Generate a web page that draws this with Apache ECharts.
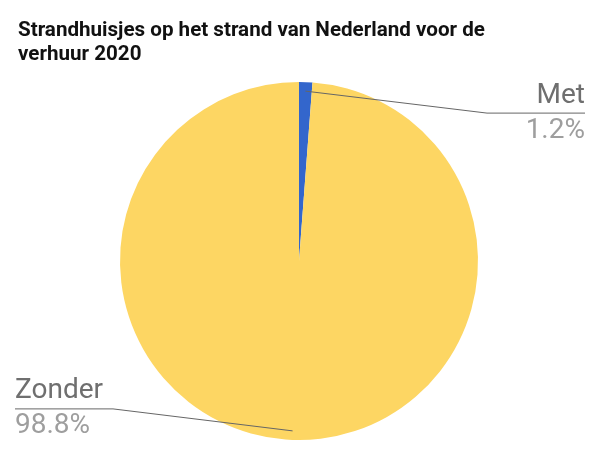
<!DOCTYPE html>
<html>
<head>
<meta charset="utf-8">
<script src="https://cdn.jsdelivr.net/npm/echarts@6/dist/echarts.min.js"></script>
<style>
html,body{margin:0;padding:0;background:#fff;}
#chart{width:603px;height:459px;}
</style>
</head>
<body>
<div id="chart"></div>
<script>
var titleText = 'Strandhuisjes op het strand van Nederland voor de\nverhuur 2020';
var categories = ['Met', 'Zonder'];
var values = [1.2, 98.8];
var sliceColors = ['#3366cc', '#fdd663'];

var DOT_INSET = 9;     // label line starts this far inside the rim
var LABEL_INSET = 31;  // label anchor radial inset from the rim
var EDGE_RIGHT = 18;
var EDGE_LEFT = 15;
var SEG = 98;

var chart = echarts.init(document.getElementById('chart'), null, {renderer: 'canvas'});

function buildData(transparent) {
  return categories.map(function (c, i) {
    return {name: c, value: values[i], itemStyle: {color: transparent ? 'rgba(0,0,0,0)' : sliceColors[i]}};
  });
}

chart.setOption({
  animation: false,
  backgroundColor: '#ffffff',
  title: {
    text: titleText,
    left: 13,
    top: 14,
    textStyle: {
      fontFamily: 'Roboto',
      fontWeight: 'bold',
      fontSize: 20.6,
      lineHeight: 24,
      color: '#111111'
    }
  },
  series: [{
    type: 'pie',
    z: 2,
    center: [299, 261],
    radius: 179,
    startAngle: 90,
    clockwise: true,
    silent: true,
    emphasis: {disabled: true},
    itemStyle: {borderWidth: 0},
    label: {show: false},
    labelLine: {show: false},
    data: buildData(false)
  }, {
    type: 'pie',
    z: 5,
    center: [299, 261],
    radius: 179,
    startAngle: 90,
    clockwise: true,
    silent: true,
    emphasis: {disabled: true},
    itemStyle: {borderWidth: 0},
    label: {
      show: true,
      position: 'outside',
      formatter: function (p) {
        return '{name|' + p.name + '}\n{pct|' + p.percent.toFixed(1) + '%}';
      },
      rich: {
        name: {fontFamily: 'Roboto', fontSize: 28, lineHeight: 35, color: '#6f6f6f'},
        pct: {fontFamily: 'Roboto', fontSize: 28, lineHeight: 35, color: '#9e9e9e'}
      }
    },
    labelLine: {
      show: true,
      length: 10,
      length2: 10,
      smooth: false,
      lineStyle: {color: '#666666', width: 1}
    },
    labelLayout: function (params) {
      var pts = params.labelLinePoints;
      if (!pts) return {};
      var p0 = pts[0], p1 = pts[1];
      var dx = p1[0] - p0[0], dy = p1[1] - p0[1];
      var len = Math.sqrt(dx * dx + dy * dy) || 1;
      var ux = dx / len, uy = dy / len;
      var start = [p0[0] - ux * DOT_INSET, p0[1] - uy * DOT_INSET];
      var anchorY = p0[1] - uy * LABEL_INSET;
      var right = ux >= 0;
      var edgeX = right ? chart.getWidth() - EDGE_RIGHT : EDGE_LEFT;
      var bendX = right ? edgeX - SEG : edgeX + SEG;
      return {
        x: edgeX,
        y: anchorY,
        align: right ? 'right' : 'left',
        verticalAlign: 'middle',
        labelLinePoints: [start, [bendX, anchorY], [edgeX, anchorY]]
      };
    },
    data: buildData(true)
  }]
});
</script>
</body>
</html>
